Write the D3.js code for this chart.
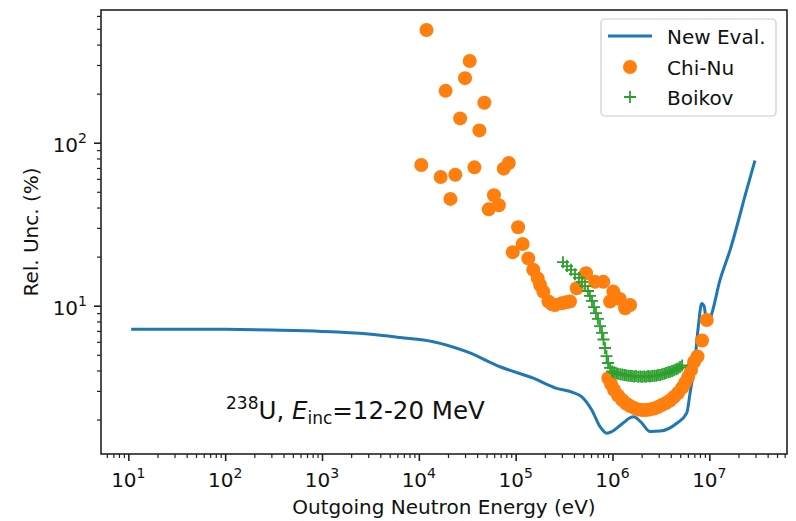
<!DOCTYPE html>
<html><head><meta charset="utf-8">
<script src="https://cdn.jsdelivr.net/npm/d3@7"></script>
<style>body{margin:0;background:#fff} svg{display:block} text{font-family:"DejaVu Sans",sans-serif;fill:#111}</style>
</head><body><svg id="c" width="796" height="521"></svg>
<script>
// ---- data ----
const evalE = [10.7, 30, 100, 300, 1000, 3000, 6400, 1.41e4, 3.12e4, 6.9e4, 1.52e5, 2.65e5, 3.94e5, 4.82e5, 6.11e5, 7.43e5, 8.73e5, 9.89e5, 1.25e6, 1.64e6, 1.97e6, 2.44e6, 3.1e6, 4.61e6, 5.85e6, 6.32e6, 7.11e6, 7.69e6, 8.35e6, 8.81e6, 9.42e6, 1.02e7, 1.29e7, 1.64e7, 2.43e7, 2.96e7];
const evalV = [7.18, 7.18, 7.16, 7.08, 6.95, 6.7, 6.38, 6.01, 5.22, 4.22, 3.59, 3.11, 2.93, 2.76, 2.29, 1.81, 1.65, 1.69, 1.88, 2.08, 1.93, 1.69, 1.70, 1.90, 2.20, 2.90, 4.64, 7.43, 10.3, 9.96, 7.94, 8.4, 14.4, 22.0, 51.3, 77.8];

const chiE = [1.2e4, 3.35e4, 3.0e4, 1.89e4, 4.75e4, 2.67e4, 4.22e4, 1.06e4, 1.68e4, 2.38e4, 3.75e4, 7.53e4, 8.49e4, 2.12e4, 5.97e4, 6.7e4, 5.27e4, 1.06e5,
  1.18e5, 9.33e4, 1.35e5, 1.52e5, 1.69e5, 1.79e5, 1.93e5, 2.18e5, 2.38e5, 2.55e5, 2.99e5, 3.31e5, 3.64e5, 4.27e5, 5.33e5, 6.59e5, 8.04e5, 1.02e6, 9.44e5, 1.19e6, 1.35e6, 1.52e6,
  9.06e5, 9.66e5, 1.04e6, 1.14e6, 1.26e6, 1.38e6, 1.52e6, 1.67e6, 1.84e6, 2.02e6, 2.22e6, 2.44e6, 2.69e6, 2.95e6, 3.24e6, 3.57e6, 3.93e6, 4.31e6, 4.75e6, 5.22e6, 5.61e6, 6.03e6, 6.47e6, 6.95e6, 7.55e6, 8.41e6, 9.4e6];
const chiV = [491, 317, 249, 208, 176, 141, 119, 73, 61.6, 63.6, 70.6, 69.3, 75, 45.2, 47.6, 41.3, 39, 30.3,
  23.9, 21.3, 19.5, 16.6, 14.7, 13.4, 12.2, 10.6, 10.2, 10.1, 10.35, 10.5, 10.6, 12.8, 15.8, 14.0, 14.0, 12.2, 10.6, 11.0, 9.64, 10.1,
  3.59, 3.31, 3.04, 2.81, 2.64, 2.51, 2.42, 2.36, 2.31, 2.29, 2.29, 2.31, 2.34, 2.39, 2.46, 2.53, 2.62, 2.75, 2.91, 3.13, 3.36, 3.65, 4.03, 4.52, 4.88, 6.12, 8.17];

const boikE = [3.08e5, 3.39e5, 3.73e5, 4.10e5, 4.51e5, 4.84e5, 5.2e5, 5.58e5, 5.85e5, 6.14e5, 6.44e5, 6.75e5, 7.08e5, 7.43e5, 7.79e5, 8.07e5, 8.37e5, 8.68e5, 9.0e5, 9.44e5,
  9.9e5, 1.04e6, 1.09e6, 1.14e6, 1.2e6, 1.26e6, 1.32e6, 1.38e6, 1.45e6, 1.52e6, 1.59e6, 1.67e6, 1.75e6, 1.84e6, 1.93e6, 2.02e6, 2.12e6, 2.22e6, 2.33e6, 2.44e6, 2.56e6, 2.69e6, 2.82e6, 2.95e6, 3.1e6, 3.25e6, 3.41e6, 3.57e6, 3.75e6, 3.93e6, 4.12e6, 4.32e6, 4.53e6, 4.75e6, 4.98e6, 5.23e6];
const boikV = [18.5, 17.5, 16.6, 15.6, 14.8, 14.0, 13.2, 12.3, 11.5, 10.7, 9.8, 9.0, 8.3, 7.5, 6.8, 6.2, 5.5, 4.9, 4.45, 4.15,
  3.95, 3.9, 3.85, 3.82, 3.8, 3.78, 3.76, 3.74, 3.72, 3.72, 3.70, 3.68, 3.7, 3.66, 3.68, 3.66, 3.68, 3.66, 3.7, 3.68, 3.7, 3.72, 3.72, 3.75, 3.76, 3.8, 3.82, 3.86, 3.9, 3.93, 3.98, 4.02, 4.08, 4.12, 4.2, 4.3];

const xTickExps = [1, 2, 3, 4, 5, 6, 7];
const yTickExps = [1, 2];
const legendLabels = ["New Eval.", "Chi-Nu", "Boikov"];
const xLabel = "Outgoing Neutron Energy (eV)";
const yLabel = "Rel. Unc. (%)";

// ---- layout ----
const L = 101, R = 787, T = 10, B = 454;
const C_BLUE = "#1f77b4", C_ORANGE = "#ff7f0e", C_GREEN = "#2ca02c";
const svg = d3.select("#c");
const x = d3.scaleLog().domain([5.22, 6.34e7]).range([L, R]);
const y = d3.scaleLog().domain([1.23, 652]).range([B, T]);

svg.append("defs").append("clipPath").attr("id", "clip")
  .append("rect").attr("x", L).attr("y", T).attr("width", R - L).attr("height", B - T);

// minor ticks
function minors(dom) {
  const out = [];
  for (let d = -1; d <= 9; d++) for (let m = 2; m <= 9; m++) {
    const v = m * Math.pow(10, d);
    if (v >= dom[0] && v <= dom[1]) out.push(v);
  }
  return out;
}
const xMaj = xTickExps.map(e => Math.pow(10, e));
const yMaj = yTickExps.map(e => Math.pow(10, e));

const gx = svg.append("g").attr("transform", `translate(0,${B})`);
gx.call(d3.axisBottom(x).tickValues(minors(x.domain())).tickSize(4).tickFormat(""));
const gx2 = svg.append("g").attr("transform", `translate(0,${B})`);
gx2.call(d3.axisBottom(x).tickValues(xMaj).tickSize(7).tickFormat(""));
const gy = svg.append("g").attr("transform", `translate(${L},0)`);
gy.call(d3.axisLeft(y).tickValues(minors(y.domain())).tickSize(4).tickFormat(""));
const gy2 = svg.append("g").attr("transform", `translate(${L},0)`);
gy2.call(d3.axisLeft(y).tickValues(yMaj).tickSize(7).tickFormat(""));
[gx, gx2, gy, gy2].forEach(g => { g.select(".domain").remove(); g.selectAll("line").attr("stroke", "#222"); });
[gx, gy].forEach(g => g.selectAll("line").attr("stroke-width", 1.2));
[gx2, gy2].forEach(g => g.selectAll("line").attr("stroke-width", 1.6));

// tick labels with superscripts
xTickExps.forEach(e => {
  const t = svg.append("text").attr("x", x(Math.pow(10, e))).attr("y", B + 33).attr("text-anchor", "middle").style("font-size", "20px");
  t.append("tspan").text("10");
  t.append("tspan").attr("dy", -9).style("font-size", "14px").text(e);
});
yTickExps.forEach(e => {
  const t = svg.append("text").attr("x", L - 14).attr("y", y(Math.pow(10, e)) + 9.5).attr("text-anchor", "end").style("font-size", "20px");
  t.append("tspan").text("10");
  t.append("tspan").attr("dy", -9).style("font-size", "14px").text(e);
});

// axis labels
svg.append("text").attr("x", (L + R) / 2).attr("y", 514).attr("text-anchor", "middle").style("font-size", "20px").text(xLabel);
svg.append("text").attr("transform", `translate(37.5,${(T + B) / 2}) rotate(-90)`).attr("text-anchor", "middle").style("font-size", "20px").text(yLabel);

// data
const plot = svg.append("g").attr("clip-path", "url(#clip)");
const evalData = evalE.map((e, i) => [e, evalV[i]]);
plot.append("path").datum(evalData)
  .attr("d", d3.line().x(d => x(d[0])).y(d => y(d[1])).curve(d3.curveMonotoneX))
  .attr("fill", "none").attr("stroke", C_BLUE).attr("stroke-width", 3).attr("stroke-linejoin", "round");

plot.selectAll("circle.chi").data(chiE.map((e, i) => [e, chiV[i]])).enter().append("circle")
  .attr("cx", d => x(d[0])).attr("cy", d => y(d[1])).attr("r", 7).attr("fill", C_ORANGE);

plot.selectAll("path.boik").data(boikE.map((e, i) => [e, boikV[i]])).enter().append("path")
  .attr("d", "M-6,0H6M0,-6V6")
  .attr("transform", d => `translate(${x(d[0])},${y(d[1])})`)
  .attr("stroke", C_GREEN).attr("stroke-width", 1.8).attr("fill", "none");

// frame
svg.append("rect").attr("x", L).attr("y", T).attr("width", R - L).attr("height", B - T)
  .attr("fill", "none").attr("stroke", "#222").attr("stroke-width", 1.6);

// annotation
const ann = svg.append("text").attr("x", 226).attr("y", 418.5).style("font-size", "24.5px");
ann.append("tspan").attr("dy", -10).style("font-size", "17px").text("238");
ann.append("tspan").attr("dy", 10).text("U, ");
ann.append("tspan").style("font-style", "italic").text("E");
ann.append("tspan").attr("dy", 5).style("font-size", "17px").text("inc");
ann.append("tspan").attr("dy", -5).text("=12-20 MeV");

// legend
const lg = svg.append("g");
lg.append("rect").attr("x", 601).attr("y", 19).attr("width", 175).attr("height", 97).attr("rx", 4)
  .attr("fill", "#fff").attr("fill-opacity", 0.8).attr("stroke", "#cccccc").attr("stroke-width", 1.2);
const rows = [36, 67, 97];
lg.append("line").attr("x1", 608).attr("x2", 652).attr("y1", rows[0]).attr("y2", rows[0]).attr("stroke", C_BLUE).attr("stroke-width", 3);
lg.append("circle").attr("cx", 630).attr("cy", rows[1]).attr("r", 7).attr("fill", C_ORANGE);
lg.append("path").attr("d", "M-6,0H6M0,-6V6").attr("transform", `translate(630,${rows[2]})`).attr("stroke", C_GREEN).attr("stroke-width", 1.8);
legendLabels.forEach((s, i) => lg.append("text").attr("x", 667).attr("y", rows[i] + 7.5).style("font-size", "20px").text(s));
</script></body></html>
